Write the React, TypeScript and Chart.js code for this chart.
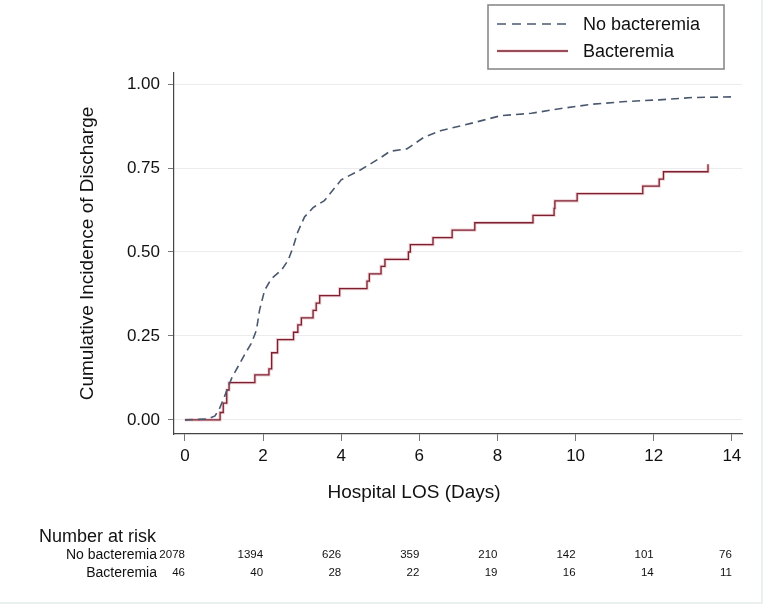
import React, { useEffect, useRef } from "react";
import { Chart, registerables } from "chart.js";

Chart.register(...registerables);

// ---- Data ----
const seriesLabels = ["No bacteremia", "Bacteremia"];

const noBactTimes = [0, 0.6, 0.77, 0.89, 1.02, 1.11, 1.2, 1.36, 1.53, 1.7, 1.83, 1.91, 2.04, 2.21, 2.47, 2.64, 2.77, 2.89, 3.06, 3.28, 3.57, 4.0, 4.5, 5.0, 5.25, 5.68, 6.11, 6.54, 7.32, 8.09, 8.87, 9.55, 10.42, 11.28, 12.14, 13.0, 14.0];
const noBactValues = [0, 0.003, 0.012, 0.035, 0.072, 0.099, 0.125, 0.159, 0.195, 0.228, 0.267, 0.327, 0.386, 0.42, 0.446, 0.475, 0.515, 0.56, 0.604, 0.632, 0.653, 0.715, 0.745, 0.78, 0.8, 0.807, 0.841, 0.861, 0.883, 0.906, 0.913, 0.926, 0.94, 0.948, 0.953, 0.96, 0.962];

const bactTimes = [0, 0.9, 0.98, 1.07, 1.13, 1.79, 2.15, 2.22, 2.37, 2.78, 2.89, 2.98, 3.28, 3.36, 3.45, 3.96, 4.66, 4.72, 5.02, 5.12, 5.72, 5.77, 6.35, 6.84, 7.42, 8.91, 9.45, 9.47, 10.04, 11.72, 12.14, 12.25, 13.39];
const bactValues = [0, 0.022, 0.05, 0.089, 0.111, 0.134, 0.152, 0.2, 0.239, 0.261, 0.283, 0.304, 0.326, 0.348, 0.37, 0.391, 0.413, 0.435, 0.457, 0.478, 0.5, 0.522, 0.543, 0.565, 0.587, 0.609, 0.63, 0.652, 0.674, 0.696, 0.717, 0.739, 0.761];

const xTicks = [0, 2, 4, 6, 8, 10, 12, 14];
const yTicks = [0, 0.25, 0.5, 0.75, 1.0];

const riskTimes = [0, 2, 4, 6, 8, 10, 12, 14];
const riskNoBact = [2078, 1394, 626, 359, 210, 142, 101, 76];
const riskBact = [46, 40, 28, 22, 19, 16, 14, 11];

const FONT = "'Liberation Sans', Arial, Helvetica, sans-serif";
const DASH_COLOR = "#4a586e";
const RED_COLOR = "#7c2030";
const RED_HALO = "rgba(226,170,176,0.55)";

const extrasPlugin = {
  id: "extras",
  afterDraw(chart: any) {
    const ctx = chart.ctx as CanvasRenderingContext2D;
    const xs = chart.scales.x;
    ctx.save();

    // faint outer frame (right + bottom)
    ctx.strokeStyle = "#e4eaec";
    ctx.lineWidth = 1.5;
    ctx.beginPath();
    ctx.moveTo(762, 0);
    ctx.lineTo(762, 603);
    ctx.lineTo(0, 603);
    ctx.stroke();

    // x-axis title
    ctx.fillStyle = "#111";
    ctx.font = `19px ${FONT}`;
    ctx.textAlign = "center";
    ctx.textBaseline = "middle";
    ctx.fillText("Hospital LOS (Days)", 414, 493);

    // legend box
    ctx.strokeStyle = "#8a8a8a";
    ctx.lineWidth = 1.6;
    ctx.strokeRect(488, 5, 236, 64);
    ctx.lineWidth = 1.6;
    ctx.strokeStyle = DASH_COLOR;
    ctx.setLineDash([9, 6]);
    ctx.beginPath();
    ctx.moveTo(497, 24);
    ctx.lineTo(570, 24);
    ctx.stroke();
    ctx.setLineDash([]);
    ctx.strokeStyle = RED_HALO;
    ctx.lineWidth = 3;
    ctx.beginPath();
    ctx.moveTo(497, 51);
    ctx.lineTo(568, 51);
    ctx.stroke();
    ctx.strokeStyle = RED_COLOR;
    ctx.lineWidth = 1.3;
    ctx.beginPath();
    ctx.moveTo(497, 51);
    ctx.lineTo(568, 51);
    ctx.stroke();
    ctx.fillStyle = "#111";
    ctx.font = `18px ${FONT}`;
    ctx.textAlign = "left";
    ctx.fillText(seriesLabels[0], 583, 25);
    ctx.fillText(seriesLabels[1], 583, 52);

    // number at risk table
    ctx.font = `18px ${FONT}`;
    ctx.textAlign = "left";
    ctx.fillText("Number at risk", 39, 537);
    ctx.font = `14px ${FONT}`;
    ctx.textAlign = "right";
    ctx.fillText(seriesLabels[0], 157, 555);
    ctx.fillText(seriesLabels[1], 157, 573);
    ctx.font = `11.5px ${FONT}`;
    riskTimes.forEach((t, i) => {
      const px = xs.getPixelForValue(t);
      ctx.fillText(String(riskNoBact[i]), px, 555);
      ctx.fillText(String(riskBact[i]), px, 573);
    });

    ctx.restore();
  },
};

export default function App() {
  const canvasRef = useRef<HTMLCanvasElement | null>(null);

  useEffect(() => {
    if (!canvasRef.current) return;
    const noBactData = noBactTimes.map((t, i) => ({ x: t, y: noBactValues[i] }));
    const bactData = bactTimes.map((t, i) => ({ x: t, y: bactValues[i] }));

    const chart = new Chart(canvasRef.current, {
      type: "line",
      data: {
        datasets: [
          {
            label: seriesLabels[0],
            data: noBactData,
            borderColor: DASH_COLOR,
            borderWidth: 1.6,
            borderDash: [8, 5],
            pointRadius: 0,
            fill: false,
            tension: 0,
            order: 0,
          },
          {
            label: seriesLabels[1],
            data: bactData,
            borderColor: RED_COLOR,
            borderWidth: 1.3,
            pointRadius: 0,
            fill: false,
            stepped: "before",
            order: 1,
          },
          {
            label: seriesLabels[1] + " halo",
            data: bactData,
            borderColor: RED_HALO,
            borderWidth: 3.2,
            pointRadius: 0,
            fill: false,
            stepped: "before",
            order: 2,
          },
        ],
      },
      options: {
        responsive: false,
        animation: false,
        events: [],
        layout: { padding: { left: 0, top: 73, right: 23, bottom: 143 } },
        plugins: {
          legend: { display: false },
          tooltip: { enabled: false },
          title: { display: false },
        },
        scales: {
          x: {
            type: "linear",
            min: -0.28,
            max: 14.26,
            afterFit(scale: any) {
              scale.height = 30;
            },
            afterBuildTicks(scale: any) {
              scale.ticks = xTicks.map((v) => ({ value: v }));
            },
            border: { display: true, color: "#444", width: 1.2 },
            grid: {
              display: true,
              drawOnChartArea: false,
              drawTicks: true,
              tickLength: 7,
              tickColor: "#777",
            },
            ticks: {
              color: "#111",
              font: { family: FONT, size: 17 },
              padding: 5,
              maxRotation: 0,
              autoSkip: false,
              callback: (v: any) => String(v),
            },
          },
          y: {
            type: "linear",
            min: -0.042,
            max: 1.033,
            afterFit(scale: any) {
              scale.width = 174;
            },
            afterBuildTicks(scale: any) {
              scale.ticks = yTicks.map((v) => ({ value: v }));
            },
            border: { display: true, color: "#444", width: 1.2 },
            grid: {
              display: true,
              drawOnChartArea: true,
              color: "#ececec",
              lineWidth: 1,
              drawTicks: true,
              tickLength: 6,
              tickColor: "#777",
            },
            ticks: {
              color: "#111",
              font: { family: FONT, size: 17 },
              padding: 8,
              autoSkip: false,
              callback: (v: any) => Number(v).toFixed(2),
            },
            title: {
              display: true,
              text: "Cumulative Incidence of Discharge",
              color: "#111",
              font: { family: FONT, size: 19 },
              padding: { top: 76, bottom: 0 },
            },
          },
        },
      },
      plugins: [extrasPlugin],
    } as any);

    return () => {
      chart.destroy();
    };
  }, []);

  return (
    <div style={{ position: "absolute", left: 0, top: 0, width: 765, height: 607, background: "#fff" }}>
      <canvas ref={canvasRef} width={765} height={607} style={{ display: "block" }} />
    </div>
  );
}
